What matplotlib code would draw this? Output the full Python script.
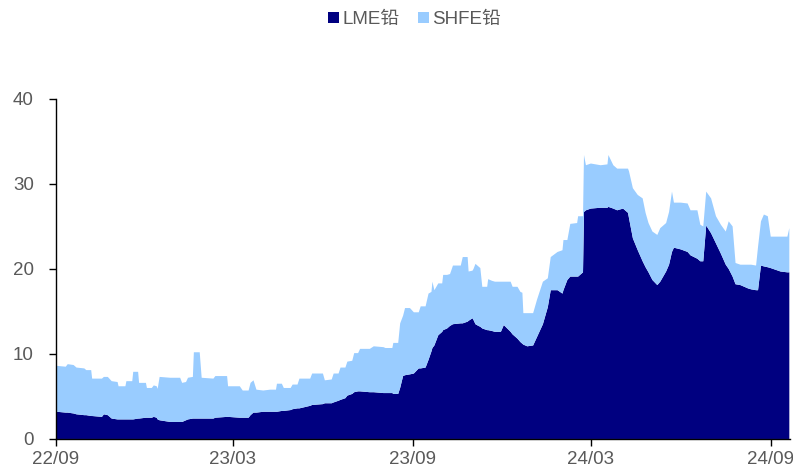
#!/usr/bin/env python

import numpy as np
import pandas as pd
import matplotlib
matplotlib.use('Agg')
import matplotlib.pyplot as plt
import matplotlib.dates as mdates
from matplotlib.patches import Patch

################################################################################

start = pd.Timestamp('2022-09-01')

# days since 2022-09-01
days = [
  1, 10, 12, 18, 21, 29, 31, 36, 37, 47, 49, 53, 57, 63, 64, 71, 72, 78, 79, 84,
  85, 92, 93, 98, 100, 103, 104, 106, 117, 127, 129, 133, 135, 140, 141, 147,
  149, 161, 163, 175, 176, 188, 191, 197, 199, 202, 205, 212, 219, 225, 226,
  231, 233, 240, 242, 247, 249, 260, 262, 273, 275, 282, 284, 289, 291, 296,
  298, 303, 305, 309, 311, 321, 325, 335, 337, 344, 345, 350, 352, 355, 357,
  362, 366, 371, 373, 378, 381, 384, 385, 387, 391, 395, 396, 400, 403, 406,
  414, 416, 421, 422, 426, 427, 429, 432, 434, 436, 441, 442, 446, 449, 455,
  458, 465, 467, 472, 475, 477, 478, 482, 488, 492, 498, 503, 506, 513, 518,
  519, 523, 526, 533, 534, 539, 540, 542, 547, 557, 564, 565, 570, 574, 580,
  585, 586, 590, 595, 600, 603, 606, 610, 615, 618, 624, 627, 630, 632, 639,
  646, 649, 656, 659, 662, 665, 670, 675, 680, 685, 688, 692, 695, 700, 708,
  711, 716, 718, 721, 724, 728, 731, 741, 748, 750,
]

lme = [
  3.2, 3.1, 3.1, 3.0, 2.9, 2.8, 2.8, 2.7, 2.7, 2.6, 2.9, 2.8, 2.4, 2.3, 2.3,
  2.3, 2.3, 2.3, 2.3, 2.4, 2.4, 2.5, 2.5, 2.5, 2.6, 2.5, 2.3, 2.2, 2.0, 2.0,
  2.0, 2.2, 2.3, 2.4, 2.4, 2.4, 2.4, 2.4, 2.5, 2.6, 2.6, 2.5, 2.5, 2.5, 2.8,
  3.1, 3.1, 3.2, 3.2, 3.2, 3.2, 3.3, 3.3, 3.4, 3.5, 3.6, 3.6, 3.9, 4.0, 4.1,
  4.2, 4.2, 4.3, 4.5, 4.6, 4.8, 5.1, 5.3, 5.5, 5.6, 5.6, 5.5, 5.5, 5.4, 5.4,
  5.4, 5.3, 5.3, 6.0, 7.4, 7.5, 7.6, 7.7, 8.3, 8.3, 8.4, 9.3, 10.3, 10.7, 11.0,
  12.2, 12.6, 12.8, 13.0, 13.3, 13.5, 13.6, 13.6, 13.8, 13.9, 14.2, 14.0, 13.5,
  13.3, 13.2, 13.0, 12.8, 12.8, 12.7, 12.6, 12.6, 13.4, 12.6, 12.3, 11.8, 11.4,
  11.2, 11.1, 10.9, 11.0, 12.0, 13.5, 15.5, 17.5, 17.5, 17.1, 17.5, 18.7, 19.1,
  19.1, 19.1, 19.6, 26.7, 26.9, 27.1, 27.2, 27.2, 27.3, 27.1, 26.9, 27.1, 26.6,
  26.0, 23.6, 22.2, 20.9, 20.2, 19.6, 18.7, 18.1, 18.5, 19.7, 20.5, 22.0, 22.5,
  22.3, 22.0, 21.6, 21.2, 20.9, 20.9, 25.1, 24.2, 23.0, 21.8, 20.5, 20.0, 19.1,
  18.2, 18.1, 17.7, 17.6, 17.5, 17.5, 20.4, 20.3, 20.2, 20.1, 19.7, 19.6, 19.6,
]

shfe = [
  5.4, 5.4, 5.7, 5.7, 5.5, 5.5, 5.3, 5.4, 4.4, 4.5, 4.4, 4.5, 4.4, 4.4, 3.9,
  3.9, 4.5, 4.5, 5.6, 5.5, 4.2, 4.1, 3.5, 3.5, 3.7, 3.7, 3.6, 5.1, 5.2, 5.2,
  4.6, 4.5, 4.9, 4.9, 7.8, 7.8, 4.8, 4.7, 4.9, 4.8, 3.6, 3.7, 3.2, 3.2, 3.8,
  3.8, 2.7, 2.5, 2.6, 2.6, 3.3, 3.2, 2.7, 2.6, 2.9, 2.8, 3.5, 3.2, 3.7, 3.6,
  2.7, 2.8, 3.4, 3.2, 3.8, 3.6, 4.0, 3.9, 4.6, 4.5, 5.0, 5.1, 5.4, 5.4, 5.3,
  5.3, 6.0, 6.0, 7.6, 7.1, 7.9, 7.8, 7.2, 6.6, 7.3, 7.2, 7.8, 7.0, 7.8, 6.5,
  6.1, 5.7, 6.5, 6.3, 6.1, 6.9, 6.8, 7.8, 7.6, 5.8, 5.6, 6.0, 7.1, 7.0, 6.9,
  4.9, 5.1, 6.0, 5.9, 5.9, 5.9, 5.1, 5.9, 5.6, 6.1, 5.9, 6.0, 3.7, 3.9, 3.8,
  4.4, 5.0, 3.4, 3.9, 4.5, 5.1, 5.9, 4.7, 6.2, 6.3, 7.1, 6.6, 6.7, 5.3, 5.3,
  5.0, 5.1, 6.1, 5.1, 4.9, 4.7, 5.2, 5.5, 5.9, 6.5, 7.4, 6.4, 5.8, 5.7, 5.9,
  6.3, 5.7, 6.2, 7.1, 5.3, 5.5, 5.7, 5.3, 5.7, 4.3, 4.1, 4.0, 4.1, 3.2, 3.4,
  3.9, 5.6, 5.9, 2.5, 2.4, 2.8, 2.9, 2.9, 5.1, 5.2, 6.1, 6.0, 3.7, 4.1, 4.2,
  5.2,
]

labels = ['LME铅', 'SHFE铅']
colors = ['#000080', '#99CCFF']
tick_dates = ['2022-09-01', '2023-03-01', '2023-09-01', '2024-03-01', '2024-09-01']

################################################################################

plt.rcParams['font.family'] = ['Liberation Sans', 'Noto Sans CJK SC', 'DejaVu Sans']

dates = start + pd.to_timedelta(days, unit='D')
lme = np.array(lme)
shfe = np.array(shfe)

fig = plt.figure(figsize=(7.93, 4.71), dpi=100)
ax = fig.add_axes([0.0706, 0.068, 0.926, 0.722])

ax.stackplot(dates, lme, shfe, colors=colors, labels=labels, linewidth=0)

ax.set_xlim(start, start + pd.Timedelta(days=751))
ax.set_ylim(0, 40)
ax.set_yticks([0, 10, 20, 30, 40])
ax.set_xticks(pd.to_datetime(tick_dates))
ax.xaxis.set_major_formatter(mdates.DateFormatter('%y/%m'))

for s in ['top', 'right']:
  ax.spines[s].set_visible(False)
for s in ['left', 'bottom']:
  ax.spines[s].set_color('black')
  ax.spines[s].set_linewidth(1.0)

ax.tick_params(axis='both', colors='black', labelcolor='#595959',
               labelsize=13.5, length=5, width=1)
ax.tick_params(axis='y', pad=11)
ax.tick_params(axis='x', pad=4)

handles = [Patch(facecolor=c, edgecolor='none') for c in colors]
fig.legend(handles, labels, loc='upper center', bbox_to_anchor=(0.523, 1.012),
           ncol=2, frameon=False, fontsize=13.5, handlelength=0.55,
           handleheight=0.55, handletextpad=0.2, columnspacing=1.0,
           labelcolor='#595959')

fig.savefig('out.png', dpi=100)
